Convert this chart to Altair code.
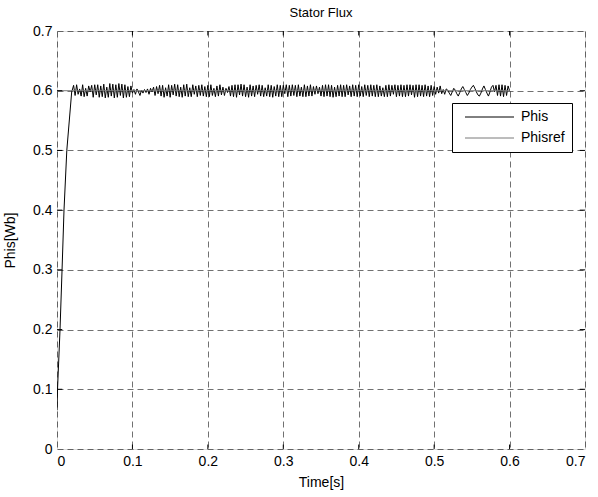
import altair as alt
import pandas as pd

# ---------------- data ----------------
x_ticks = [0, 0.1, 0.2, 0.3, 0.4, 0.5, 0.6, 0.7]
y_ticks = [0, 0.1, 0.2, 0.3, 0.4, 0.5, 0.6, 0.7]

# initial rise of Phis (time [s], flux [Wb])
rise_t = [0.0, 0.0007, 0.004, 0.0067, 0.0093, 0.013, 0.0196]
rise_v = [0.065, 0.1, 0.2, 0.3, 0.4, 0.5, 0.6]

# steady-state ripple of Phis, sampled every 2 ms from t = 0.02 s,
# given as deviation from 0.6 Wb in mWb
osc_start = 0.02
osc_step = 0.002
osc_dev = [
    0, 9, -8, 10, -6, 3, -9, 10, -10, 4,
    -9, 8, -2, 9, -11, 10, -7, 10, -11, 8,
    -10, 11, -12, 6, -11, 12, -9, 11, -12, 10,
    -11, 12, -8, 11, -12, 10, -11, 7, -10, 8,
    -4, 2, -6, 3, -2, -8, 1, -4, 2, -3,
    3, -6, 4, -2, 6, -8, 7, -5, 9, -9,
    9, -11, 5, -9, 10, -11, 9, -7, 11, -9,
    10, -10, 6, -11, 10, -9, 11, -10, 5, -10,
    10, -6, 8, -10, 9, -8, 10, -9, 7, -10,
    9, -10, 10, -8, 4, -10, 8, -9, 10, -7,
    6, -8, 4, -3, 7, -9, 9, -10, 10, -11,
    10, -7, 11, -9, 10, -10, 6, -11, 10, -9,
    8, -10, 9, -6, 10, -9, 9, -10, 5, -9,
    10, -10, 9, -11, 7, -9, 10, -10, 9, -10,
    9, -5, 10, -10, 9, -9, 10, -8, 9, -10,
    10, -9, 6, -10, 10, -10, 8, -9, 10, -9,
    7, -6, 8, -5, 6, -9, 9, -10, 10, -9,
    10, -10, 9, -11, 6, -10, 9, -9, 10, -10,
    9, -10, 10, -7, 8, -10, 10, -9, 9, -10,
    10, -9, 7, -10, 10, -8, 9, -10, 10, -9,
    9, -10, 10, -10, 8, -9, 5, -10, 9, -10,
    10, -9, 9, -6, 10, -10, 9, -9, 10, -10,
    9, -10, 10, -9, 10, -7, 9, -11, 10, -10,
    10, -9, 9, -10, 10, -9, 8, -10, 9, -8,
    7, -6, 6, -4, 8, -5, 2, -6, 3, 1,
    -4, -8, -2, 4, 1, -5, -9, -3, 3, 7,
    2, -3, -8, -4, 2, 6, 9, 4, -2, -7,
    -9, -4, 3, 8, 2, -4, -9, -2, 6, 9,
    -2, 9, -8, 10, -9, 10, -10, 9, -8, 8,
    0,
]

ref_t = [0.0, 0.6]
ref_v = [0.6, 0.6]

series_names = ["Phis", "Phisref"]
series_colors = ["#000000", "#7a7a7a"]

# ---------------- build tables ----------------
rows = []
for t, v in zip(rise_t, rise_v):
    rows.append({"t": t, "v": v, "series": "Phis"})
for i, d in enumerate(osc_dev):
    rows.append({"t": round(osc_start + osc_step * i, 4),
                 "v": 0.6 + d / 1000.0, "series": "Phis"})
for t, v in zip(ref_t, ref_v):
    rows.append({"t": t, "v": v, "series": "Phisref"})
df = pd.DataFrame(rows)

# inward ticks (MATLAB style) on all four sides
TL_X = 0.007
TL_Y = 0.0075
trows = []
for xv in x_ticks[1:-1]:
    trows.append({"x": xv, "x2": xv, "y": 0.0, "y2": TL_Y})
    trows.append({"x": xv, "x2": xv, "y": 0.7 - TL_Y, "y2": 0.7})
for yv in y_ticks[1:-1]:
    trows.append({"x": 0.0, "x2": TL_X, "y": yv, "y2": yv})
    trows.append({"x": 0.7 - TL_X, "x2": 0.7, "y": yv, "y2": yv})
tdf = pd.DataFrame(trows)

FONT = "Liberation Sans"
xs = alt.Scale(domain=[0, 0.7], nice=False, zero=False)
ys = alt.Scale(domain=[0, 0.7], nice=False, zero=False)

common_axis = dict(grid=True, ticks=False, domain=False,
                   gridColor="#000000", gridDash=[6, 4], gridOpacity=0.8,
                   gridWidth=0.7,
                   labelFontSize=14, titleFontSize=14,
                   titleFontWeight="normal", labelFont=FONT,
                   titleFont=FONT, labelColor="black", titleColor="black")
x_axis = alt.Axis(values=x_ticks, format=".1~f", title="Time[s]",
                  labelPadding=5, titlePadding=7, **common_axis)
y_axis = alt.Axis(values=y_ticks, format=".1~f", title="Phis[Wb]",
                  labelPadding=5, titlePadding=15, **common_axis)

lines = alt.Chart(df).mark_line(strokeWidth=1, clip=True).encode(
    x=alt.X("t:Q", scale=xs, axis=x_axis),
    y=alt.Y("v:Q", scale=ys, axis=y_axis),
    color=alt.Color("series:N",
                    scale=alt.Scale(domain=series_names, range=series_colors),
                    legend=alt.Legend(title=None, orient="none",
                                      legendX=395, legendY=72,
                                      symbolType="M-0.2,0H9.6", symbolSize=100,
                                      symbolStrokeWidth=1,
                                      labelFontSize=14, labelFont=FONT,
                                      labelColor="black", labelOffset=48,
                                      rowPadding=7, padding=7,
                                      strokeColor="black", fillColor="white")),
)

ticks = alt.Chart(tdf).mark_rule(color="black", strokeWidth=1).encode(
    x=alt.X("x:Q", scale=xs, axis=x_axis),
    x2="x2:Q",
    y=alt.Y("y:Q", scale=ys, axis=y_axis),
    y2="y2:Q",
)

chart = alt.layer(lines, ticks).properties(
    width=528, height=418,
    title=alt.TitleParams("Stator Flux", fontSize=13, font=FONT,
                          fontWeight="normal", anchor="middle",
                          color="black", offset=4),
    autosize=alt.AutoSizeParams(type="none"),
    padding={"left": 57, "top": 31, "right": 13, "bottom": 48},
).configure_view(
    stroke="black", strokeWidth=1
).configure(background="white")

chart.save("out.html", embed_options={"renderer": "svg", "actions": False})
